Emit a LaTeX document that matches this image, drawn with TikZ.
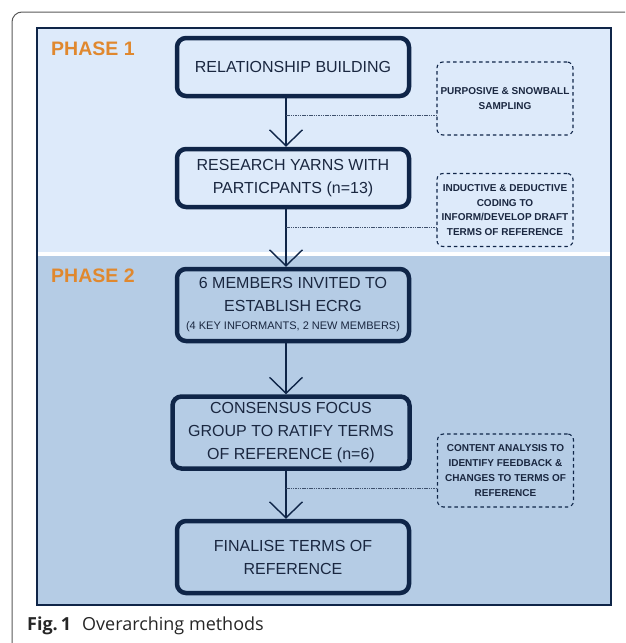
\documentclass[tikz,border=0pt]{standalone}
\usepackage{fontspec}
\setmainfont{Liberation Sans}
\newfontfamily\capfont{Open Sans}
\usepackage{xcolor}
\usetikzlibrary{arrows.meta}

\definecolor{navy}{HTML}{0F2548}
\definecolor{inktext}{HTML}{1A2740}
\definecolor{phaseone}{HTML}{DDEAFA}
\definecolor{phasetwo}{HTML}{B5CCE5}
\definecolor{phaseorange}{HTML}{E0882E}

\begin{document}
\begin{tikzpicture}[
    x=1pt, y=-1pt,
    block/.style={rectangle, draw=navy, line width=4.5pt, rounded corners=9pt, minimum width=232pt, text=inktext, font=\fontsize{16}{23}\selectfont, align=center, inner sep=0pt},
    note/.style={rectangle, draw=navy, line width=1.1pt, dash pattern=on 3.5pt off 3pt, rounded corners=6pt, minimum width=136pt, minimum height=73pt, text=inktext, font=\bfseries\fontsize{10}{14.8}\selectfont, align=center, inner sep=1pt},
    phase/.style={text=phaseorange, font=\bfseries\fontsize{19.5}{20}\selectfont, anchor=west, inner sep=0pt},
    arrow/.style={line width=1.4pt, draw=navy, -{Straight Barb[length=16pt, width=33pt]}},
    link/.style={draw=navy!80, line width=0.6pt, dash pattern=on 1.5pt off 0.8pt}
]
\useasboundingbox (0,0) rectangle (625,643);

% frame and phase panels
\begin{scope}
\clip (0,0) rectangle (625,643);
\draw[black!65, line width=1pt, rounded corners=10pt] (12,12) rectangle (660,660);
\end{scope}
\fill[phaseone] (37,28) rectangle (611,252);
\fill[white] (37,252) rectangle (611,256);
\fill[phasetwo] (37,256) rectangle (611,605);
\draw[navy, line width=2pt] (37,28) rectangle (611,605);

\node[phase] (phaseA) at (51,49) {PHASE 1};
\node[phase] (phaseB) at (51,276) {PHASE 2};

% main steps
\node[block, minimum height=58pt] (build) at (293,67) {RELATIONSHIP BUILDING};
\node[block, minimum height=58pt] (yarns) at (293,178) {RESEARCH YARNS WITH\\PARTICPANTS (n=13)};
\node[block, minimum height=72pt] (ecrg) at (293,305) {6 MEMBERS INVITED TO\\ESTABLISH ECRG\\[-5pt]{\fontsize{11}{13}\selectfont (4 KEY INFORMANTS, 2 NEW MEMBERS)}};
\node[block, minimum width=237pt, minimum height=72pt] (ratify) at (291,432.5) {CONSENSUS FOCUS\\GROUP TO RATIFY TERMS\\OF REFERENCE (n=6)};
\node[block, minimum height=72pt] (final) at (293,557) {FINALISE TERMS OF\\REFERENCE};

% side notes
\node[note] (sampling) at (505,98.5) {PURPOSIVE \& SNOWBALL\\SAMPLING};
\node[note] (coding) at (505,210) {INDUCTIVE \& DEDUCTIVE\\CODING TO\\INFORM/DEVELOP DRAFT\\TERMS OF REFERENCE};
\node[note] (content) at (505.5,470.5) {CONTENT ANALYSIS TO\\IDENTIFY FEEDBACK \&\\CHANGES TO TERMS OF\\REFERENCE};

\coordinate (spine) at (286,0);
\coordinate (tapA) at (286,115);
\coordinate (tapB) at (286,227);
\coordinate (tapC) at (286,488);

\draw[arrow] (build.south -| spine) -- (yarns.north -| spine);
\draw[arrow] (yarns.south -| spine) -- (ecrg.north -| spine);
\draw[arrow] (ecrg.south -| spine) -- (ratify.north -| spine);
\draw[arrow] (ratify.south -| spine) -- (final.north -| spine);

\draw[link] (tapA) -- (tapA -| sampling.west);
\draw[link] (tapB) -- (tapB -| coding.west);
\draw[link] (tapC) -- (tapC -| content.west);

\node[anchor=west, inner sep=0pt, font=\capfont\fontsize{18}{20}\selectfont, text=black!85] (caption) at (27,626) {\textbf{Fig.\,1}\hspace{11pt}Overarching methods};

\end{tikzpicture}
\end{document}
